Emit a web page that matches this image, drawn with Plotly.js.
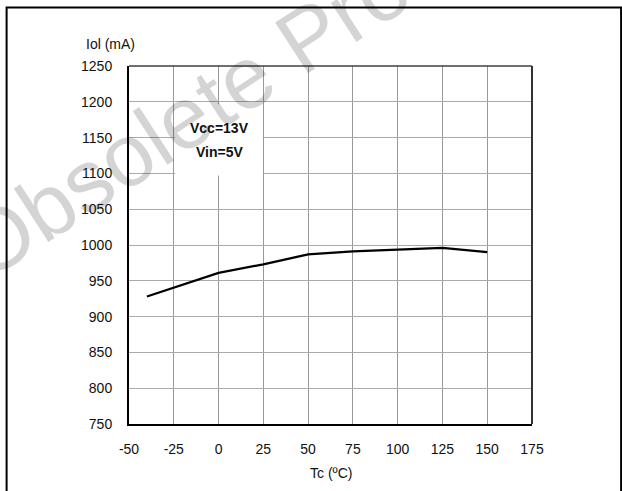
<!DOCTYPE html>
<html>
<head>
<meta charset="utf-8">
<script src="https://cdn.plot.ly/plotly-3.0.1.min.js"></script>
<style>html,body{margin:0;padding:0;background:#fff;}#chart{width:622px;height:491px;}</style>
</head>
<body>
<div id="chart"></div>
<script>
// Data
const tempC = [-40, 0, 25, 50, 75, 100, 125, 150];
const iolmA = [928, 961, 973, 987, 991, 994, 996, 990];
const xTicks = [-50, -25, 0, 25, 50, 75, 100, 125, 150, 175];
const yTicks = [750, 800, 850, 900, 950, 1000, 1050, 1100, 1150, 1200, 1250];
const xTitle = "Tc (ºC)";
const yTitle = "Iol (mA)";
const condLines = ["Vcc=13V", "Vin=5V"];
const watermark = "Obsolete Product(s)";

const FONT = "Liberation Sans, Arial, sans-serif";

const trace = {
  x: tempC, y: iolmA, type: "scatter", mode: "lines",
  line: {color: "#000", width: 2.2}, hoverinfo: "skip", showlegend: false
};

const layout = {
  width: 622, height: 491,
  margin: {l: 129.3, r: 90, t: 65.7, b: 67.3, pad: 0},
  paper_bgcolor: "#fff", plot_bgcolor: "#fff",
  font: {family: FONT, size: 14, color: "#111"},
  showlegend: false,
  xaxis: {
    range: [-50, 175], tickvals: xTicks, ticktext: xTicks.map(String),
    showgrid: true, gridcolor: "#999", gridwidth: 1, zeroline: false,
    showline: true, linecolor: "#000", linewidth: 2,
    ticks: "", ticklabelstandoff: 11, fixedrange: true,
    tickfont: {family: FONT, size: 14, color: "#111"}
  },
  yaxis: {
    range: [750, 1250], tickvals: yTicks, ticktext: yTicks.map(String),
    showgrid: true, gridcolor: "#aaa", gridwidth: 1, zeroline: false,
    showline: true, linecolor: "#000", linewidth: 2,
    ticks: "", ticklabelstandoff: 12, fixedrange: true,
    tickfont: {family: FONT, size: 14, color: "#111"}
  },
  shapes: [
    {type: "rect", xref: "x", yref: "y", x0: -24.2, x1: 24.6, y0: 1097, y1: 1196.5,
     fillcolor: "#fff", line: {width: 0}, layer: "above"},
    {type: "line", xref: "paper", yref: "paper", x0: 0, x1: 1, y0: 1, y1: 1,
     line: {color: "#404040", width: 1.5}},
    {type: "line", xref: "paper", yref: "paper", x0: 1, x1: 1, y0: 0, y1: 1,
     line: {color: "#333", width: 2}},
    {type: "rect", xref: "paper", yref: "paper", x0: -0.3037, x1: 1.2211, y0: -0.35, y1: 1.1635,
     line: {color: "#000", width: 2}, fillcolor: "rgba(0,0,0,0)"}
  ],
  annotations: [
    {text: watermark, xref: "paper", yref: "paper", x: 0.419, y: 1.064,
     xanchor: "center", yanchor: "middle", textangle: -33, showarrow: false,
     font: {family: FONT, size: 88, color: "rgba(0,0,0,0.17)"}},
    {text: yTitle, xref: "paper", yref: "paper", x: -0.0467, y: 1.0606,
     xanchor: "center", yanchor: "middle", showarrow: false,
     font: {family: FONT, size: 14, color: "#111"}},
    {text: xTitle, xref: "paper", yref: "paper", x: 0.5, y: -0.1377,
     xanchor: "center", yanchor: "middle", showarrow: false,
     font: {family: FONT, size: 14, color: "#111"}},
    {text: "<b>" + condLines[0] + "</b>", xref: "x", yref: "y", x: 0.5, y: 1163,
     xanchor: "center", yanchor: "middle", showarrow: false,
     font: {family: FONT, size: 14, color: "#111"}},
    {text: "<b>" + condLines[1] + "</b>", xref: "x", yref: "y", x: 0.5, y: 1130.5,
     xanchor: "center", yanchor: "middle", showarrow: false,
     font: {family: FONT, size: 14, color: "#111"}}
  ]
};

Plotly.newPlot("chart", [trace], layout, {displayModeBar: false, staticPlot: true});
</script>
</body>
</html>
